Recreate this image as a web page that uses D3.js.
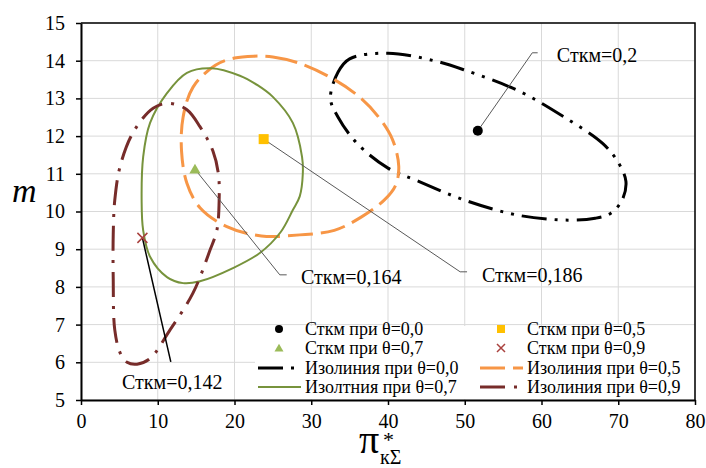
<!DOCTYPE html>
<html>
<head>
<meta charset="utf-8">
<script src="https://cdn.jsdelivr.net/npm/d3@7"></script>
<style>
  body { margin: 0; background: #fff; }
</style>
</head>
<body>
<div id="chart"></div>
<script>
// tick values
const xTicks = [0, 10, 20, 30, 40, 50, 60, 70, 80];
const yTicks = [5, 6, 7, 8, 9, 10, 11, 12, 13, 14, 15];

// isolines (pi*, m)
const iso00 = [[32.5, 13.0], [33.5, 13.7], [35, 14.05], [40, 14.2], [46, 14.0], [50, 13.75], [57, 13.2],
  [63, 12.5], [68, 11.8], [70, 11.3], [71, 10.8], [70.5, 10.3], [69, 9.95], [67, 9.82], [63.5, 9.77],
  [57, 9.9], [50, 10.3], [44, 10.8], [40, 11.15], [36, 11.8], [33.5, 12.5]];
const iso05 = [[22.5, 14.12], [25, 14.1], [28.5, 13.93], [33, 13.5], [36.5, 13.0], [38.8, 12.5], [40.6, 11.9],
  [41.4, 11.2], [41, 10.7], [39.5, 10.3], [36.5, 9.85], [33, 9.5], [28.5, 9.38], [23.5, 9.35], [19, 9.6],
  [15.5, 10.1], [13.8, 10.75], [13.1, 11.6], [13.3, 12.5], [14.6, 13.3], [17.5, 13.88], [20, 14.07]];
const iso07 = [[17, 13.8], [20.7, 13.6], [23, 13.35], [25, 13.04], [27.6, 12.35], [28.8, 11.45], [28.9, 11.0],
  [28.5, 10.4], [27.6, 10.04], [26, 9.45], [23.3, 8.9], [19.8, 8.5], [15.5, 8.15], [13.3, 8.1], [11.2, 8.26],
  [9.0, 8.8], [8.1, 9.5], [7.9, 10.3], [8.1, 11.45], [9.0, 12.35], [11.2, 13.14], [13.8, 13.68]];
const iso09 = [[11.5, 12.87], [13.8, 12.7], [15.5, 12.25], [17.2, 11.6], [17.9, 11.0], [18.0, 10.3], [17.7, 9.5],
  [16.8, 8.97], [14.6, 7.84], [11.6, 6.86], [9, 6.1], [7.3, 5.95], [6.0, 6.0], [5.1, 6.25], [4.4, 6.86],
  [4.2, 8.2], [4.2, 9.4], [4.4, 10.3], [5.1, 11.2], [6.8, 12.1], [9.4, 12.74]];

// optimum points
const pt00 = [51.7, 12.14];
const pt05 = [23.8, 11.92];
const pt07 = [14.85, 11.12];
const pt09 = [8.0, 9.3];

// callouts: label text, elbow of leader line, label position
const calloutText = ["Сткм=0,2", "Сткм=0,186", "Сткм=0,164", "Сткм=0,142"];
const calloutFrom = [pt00, pt05, pt07, pt09];
const calloutElbow = [[58.8, 14.21], [49.4, 8.40], [25.9, 8.32], [11.7, 6.01]];
const calloutEnd = [[59.5, 14.21], [50.3, 8.40], [26.8, 8.32], [11.7, 6.01]];
const calloutLabel = [[62.0, 14.16], [52.25, 8.32], [28.66, 8.27], [5.34, 5.48]];

const legendLabels = ["Сткм при θ=0,0", "Сткм при θ=0,5", "Сткм при θ=0,7", "Сткм при θ=0,9",
  "Изолиния при θ=0,0", "Изолиния при θ=0,5", "Изолтния при θ=0,7", "Изолиния при θ=0,9"];

const FONT = '"Liberation Serif"';
const W = 706, H = 468;
const margin = { top: 23, right: 11, bottom: 68, left: 81 };
const width = W - margin.left - margin.right;
const height = H - margin.top - margin.bottom;

const svg = d3.select('#chart').append('svg').attr('width', W).attr('height', H)
  .attr('font-family', 'Liberation Serif');
const g = svg.append('g').attr('transform', `translate(${margin.left},${margin.top})`);

const x = d3.scaleLinear().domain([0, 80]).range([0, width]);
const y = d3.scaleLinear().domain([5, 15]).range([height, 0]);

// gridlines
g.append('g').selectAll('line').data(xTicks).join('line')
  .attr('x1', d => x(d)).attr('x2', d => x(d)).attr('y1', 0).attr('y2', height)
  .attr('stroke', '#d9d9d9').attr('stroke-width', 1);
g.append('g').selectAll('line').data(yTicks).join('line')
  .attr('x1', 0).attr('x2', width).attr('y1', d => y(d)).attr('y2', d => y(d))
  .attr('stroke', '#d9d9d9').attr('stroke-width', 1);

// axes
const xAxis = g.append('g').attr('transform', `translate(0,${height})`)
  .call(d3.axisBottom(x).tickValues(xTicks).tickSize(5).tickPadding(9).tickSizeOuter(0));
const yAxis = g.append('g')
  .call(d3.axisLeft(y).tickValues(yTicks).tickSize(5).tickPadding(11).tickSizeOuter(0));
[xAxis, yAxis].forEach(a => {
  a.attr('font-family', 'Liberation Serif').attr('font-size', 20);
  a.select('.domain').attr('stroke', '#000').attr('stroke-width', 2);
  a.selectAll('.tick line').attr('stroke', '#000').attr('stroke-width', 1.5);
  a.selectAll('.tick text').style('font-family', FONT).style('font-size', '20px').attr('fill', '#000');
});
// frame top and right
g.append('path').attr('d', `M0,0H${width}V${height}`).attr('fill', 'none').attr('stroke', '#000').attr('stroke-width', 1.5);

// isolines
const line = d3.line().x(d => x(d[0])).y(d => y(d[1])).curve(d3.curveCatmullRomClosed.alpha(0.5));
const styles = {
  s00: { color: '#000000', w: 3, dash: '25,8,3,8,3,8' },
  s05: { color: '#F79646', w: 3, dash: '25,8' },
  s07: { color: '#77933C', w: 2, dash: null },
  s09: { color: '#772C2A', w: 3, dash: '25,9,3,9' }
};
[[iso00, styles.s00], [iso05, styles.s05], [iso07, styles.s07], [iso09, styles.s09]].forEach(([data, s]) => {
  g.append('path').datum(data).attr('d', line)
    .attr('fill', 'none').attr('stroke', s.color).attr('stroke-width', s.w)
    .attr('stroke-dasharray', s.dash);
});

// callout leader lines and labels
calloutText.forEach((t, i) => {
  const p = calloutFrom[i], e = calloutElbow[i], h = calloutEnd[i], l = calloutLabel[i];
  g.append('path')
    .attr('d', `M${x(p[0])},${y(p[1])}L${x(e[0])},${y(e[1])}L${x(h[0])},${y(h[1])}`)
    .attr('fill', 'none')
    .attr('stroke', i === 3 ? '#000' : '#595959')
    .attr('stroke-width', i === 3 ? 1.5 : 1);
  g.append('text').attr('x', x(l[0])).attr('y', y(l[1])).attr('dy', '0.35em')
    .style('font-family', FONT).style('font-size', '20px').text(t);
});

// markers
function drawMarker(sel, type, cx, cy, k) {
  if (type === 'circle') sel.append('circle').attr('cx', cx).attr('cy', cy).attr('r', 5 * k).attr('fill', '#000');
  if (type === 'square') sel.append('rect').attr('x', cx - 5 * k).attr('y', cy - 5 * k)
    .attr('width', 10 * k).attr('height', 10 * k).attr('fill', '#FFC000');
  if (type === 'triangle') sel.append('path')
    .attr('d', d3.symbol(d3.symbolTriangle, 55 * k * k)())
    .attr('transform', `translate(${cx},${cy + 1})`).attr('fill', '#9BBB59');
  if (type === 'x') sel.append('path')
    .attr('d', `M${cx - 5 * k},${cy - 5 * k}L${cx + 5 * k},${cy + 5 * k}M${cx - 5 * k},${cy + 5 * k}L${cx + 5 * k},${cy - 5 * k}`)
    .attr('stroke', '#A9413E').attr('stroke-width', 1.5).attr('fill', 'none');
}
drawMarker(g, 'circle', x(pt00[0]), y(pt00[1]), 1);
drawMarker(g, 'square', x(pt05[0]), y(pt05[1]), 1);
drawMarker(g, 'triangle', x(pt07[0]), y(pt07[1]), 1);
drawMarker(g, 'x', x(pt09[0]), y(pt09[1]), 1);

// legend
const legend = svg.append('g');
legend.append('rect').attr('x', 255).attr('y', 326).attr('width', 439).attr('height', 73).attr('fill', '#fff');
const legItems = [
  { type: 'circle', col: 0, row: 0 }, { type: 'square', col: 1, row: 0 },
  { type: 'triangle', col: 0, row: 1 }, { type: 'x', col: 1, row: 1 },
  { type: 'line', s: styles.s00, col: 0, row: 2 }, { type: 'line', s: styles.s05, col: 1, row: 2 },
  { type: 'line', s: styles.s07, col: 0, row: 3 }, { type: 'line', s: styles.s09, col: 1, row: 3 }
];
const legLabelIdx = [0, 1, 2, 3, 4, 5, 6, 7];
const colX = [258, 480];
const rowY = [329, 348, 368, 387];
legItems.forEach((it, i) => {
  const x0 = colX[it.col], cy = rowY[it.row];
  if (it.type === 'line') {
    legend.append('line').attr('x1', x0).attr('x2', x0 + 43).attr('y1', cy).attr('y2', cy)
      .attr('stroke', it.s.color).attr('stroke-width', it.s.w).attr('stroke-dasharray', it.s.dash);
  } else {
    drawMarker(legend, it.type, x0 + 21, cy, 0.8);
  }
  legend.append('text').attr('x', x0 + 47).attr('y', cy).attr('dy', '0.35em')
    .style('font-family', FONT).style('font-size', '18px').text(legendLabels[legLabelIdx[i]]);
});

// axis titles
svg.append('text').attr('x', 12).attr('y', 202)
  .style('font-family', FONT).style('font-size', '34px').style('font-style', 'italic').text('m');
svg.append('text').attr('x', 359).attr('y', 453)
  .style('font-family', FONT).style('font-size', '40px').text('π');
svg.append('text').attr('x', 383).attr('y', 447)
  .style('font-family', FONT).style('font-size', '22px').text('*');
svg.append('text').attr('x', 380).attr('y', 464)
  .style('font-family', FONT).style('font-size', '20px').text('кΣ');
</script>
</body>
</html>
